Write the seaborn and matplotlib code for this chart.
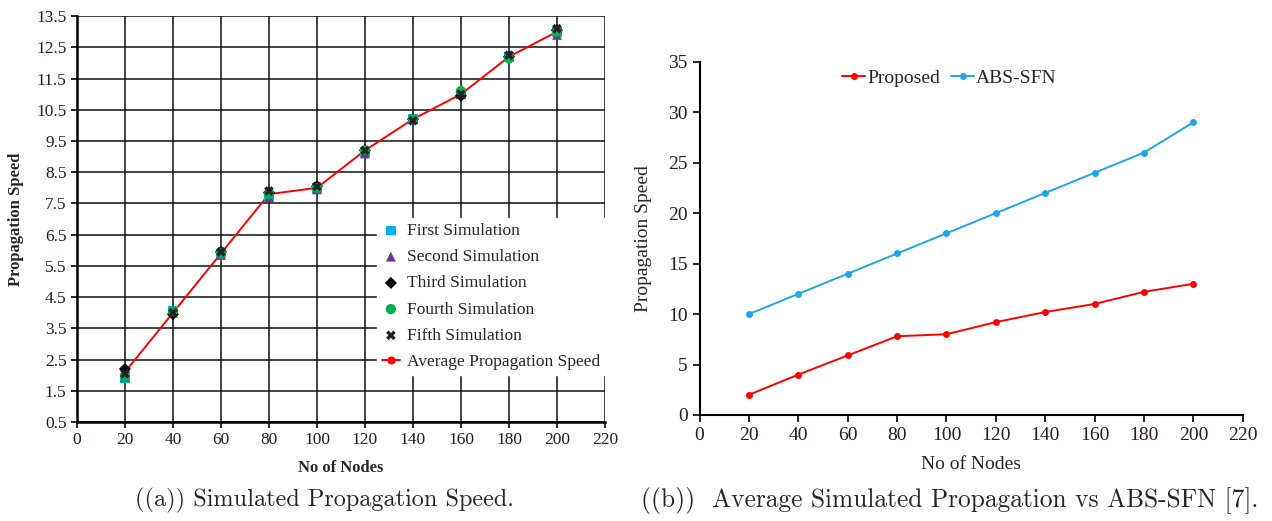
import numpy as np
import pandas as pd
import matplotlib
matplotlib.use("Agg")
import matplotlib.pyplot as plt
import seaborn as sns

# ---- data ----
nodes = [20, 40, 60, 80, 100, 120, 140, 160, 180, 200]
first_sim = [1.90, 4.05, 5.90, 7.75, 8.00, 9.15, 10.20, 11.00, 12.20, 13.00]
second_sim = [1.95, 4.00, 5.85, 7.70, 7.95, 9.10, 10.20, 11.00, 12.25, 12.90]
third_sim = [2.20, 3.95, 5.95, 7.85, 8.05, 9.20, 10.20, 10.95, 12.20, 13.05]
fourth_sim = [1.95, 4.05, 5.90, 7.80, 8.00, 9.20, 10.20, 11.10, 12.15, 13.00]
fifth_sim = [2.05, 4.00, 5.95, 7.90, 8.05, 9.20, 10.15, 11.00, 12.25, 13.10]
average_speed = [2.1, 4.0, 5.9, 7.8, 8.0, 9.2, 10.2, 11.0, 12.2, 13.0]
proposed = [2.0, 4.0, 5.9, 7.8, 8.0, 9.2, 10.2, 11.0, 12.2, 13.0]
abs_sfn = [10, 12, 14, 16, 18, 20, 22, 24, 26, 29]

left_yticks = [0.5, 1.5, 2.5, 3.5, 4.5, 5.5, 6.5, 7.5, 8.5, 9.5, 10.5, 11.5, 12.5, 13.5]
right_yticks = [0, 5, 10, 15, 20, 25, 30, 35]
xticks = list(range(0, 221, 20))

sns.set_theme(style="white")
plt.rcParams["font.family"] = ["Liberation Serif", "DejaVu Serif"]

fig = plt.figure(figsize=(12.72, 5.21), dpi=100)
ax1 = fig.add_axes([0.0605, 0.190, 0.4151, 0.779])
ax2 = fig.add_axes([0.550, 0.2035, 0.427, 0.678])

tick_color = "#2a1a2a"

# ---- left: five simulations and their average ----
sims = [
    ("First Simulation", first_sim, "s", "#00B0F0", 50),
    ("Second Simulation", second_sim, "^", "#7030A0", 50),
    ("Third Simulation", third_sim, "D", "black", 38),
    ("Fourth Simulation", fourth_sim, "o", "#00B050", 55),
    ("Fifth Simulation", fifth_sim, "X", "#222222", 48),
]
for name, vals, mk, col, sz in sims:
    df = pd.DataFrame({"nodes": nodes, "speed": vals})
    sns.scatterplot(data=df, x="nodes", y="speed", ax=ax1, marker=mk, color=col,
                    s=sz, edgecolor="none", label=name, zorder=4)

avg_df = pd.DataFrame({"nodes": nodes, "speed": average_speed})
sns.lineplot(data=avg_df, x="nodes", y="speed", ax=ax1, color="#FF0000",
             linewidth=1.4, marker="o", markersize=5, markeredgecolor="#FF0000",
             label="Average Propagation Speed", zorder=3)

ax1.set_xlim(0, 220)
ax1.set_ylim(0.5, 13.5)
ax1.set_xticks(xticks)
ax1.set_yticks(left_yticks)
ax1.set_yticklabels([f"{v:.1f}" for v in left_yticks])
ax1.grid(True, color="#111111", linewidth=1.1)
ax1.set_axisbelow(True)
for side in ["top", "right"]:
    ax1.spines[side].set_visible(False)
for side in ["left", "bottom"]:
    ax1.spines[side].set_color("black")
    ax1.spines[side].set_linewidth(1.8)
ax1.tick_params(axis="both", direction="out", length=4, width=1.2, colors="black",
                labelsize=12.5, labelcolor=tick_color, bottom=True, left=True)
ax1.set_xlabel("No of Nodes", fontsize=12, fontweight="bold", labelpad=8)
ax1.set_ylabel("Propagation Speed", fontsize=12, fontweight="bold", labelpad=9)

leg1 = ax1.legend(loc="lower right", bbox_to_anchor=(1.0, 0.115), frameon=True,
                  fancybox=False, framealpha=1.0, edgecolor="white",
                  fontsize=12.5, handlelength=1.0, handletextpad=0.4,
                  labelspacing=0.58, borderpad=0.3, borderaxespad=0.0)
leg1.set_zorder(5)

# ---- right: proposed vs ABS-SFN ----
cmp_df = pd.DataFrame({
    "nodes": nodes * 2,
    "speed": proposed + abs_sfn,
    "method": ["Proposed"] * len(nodes) + ["ABS-SFN"] * len(nodes),
})
sns.lineplot(data=cmp_df, x="nodes", y="speed", hue="method", ax=ax2,
             palette={"Proposed": "#FF0000", "ABS-SFN": "#1EA7E6"},
             marker="o", markersize=5, markeredgewidth=0, linewidth=1.4)

ax2.set_xlim(0, 220)
ax2.set_ylim(0, 35)
ax2.set_xticks(xticks)
ax2.set_yticks(right_yticks)
for side in ["top", "right"]:
    ax2.spines[side].set_visible(False)
for side in ["left", "bottom"]:
    ax2.spines[side].set_color("black")
    ax2.spines[side].set_linewidth(1.5)
ax2.tick_params(axis="both", direction="out", length=5, width=1.2, colors="black",
                labelsize=14, labelcolor=tick_color, bottom=True, left=True)
ax2.set_xlabel("No of Nodes", fontsize=14, labelpad=9)
ax2.set_ylabel("Propagation Speed", fontsize=14, labelpad=12)
ax2.legend(loc="upper left", bbox_to_anchor=(0.248, 1.0), ncol=2, frameon=False,
           fontsize=14, handlelength=1.2, handletextpad=0.1, columnspacing=0.55,
           borderaxespad=0.0)

# ---- sub-figure captions ----
fig.text(0.255, 0.04, "((a)) Simulated Propagation Speed.", ha="center",
         va="center", fontsize=17.5, family=["cmr10", "DejaVu Serif"])
fig.text(0.747, 0.04, "((b))  Average Simulated Propagation vs ABS-SFN [7].",
         ha="center", va="center", fontsize=18.3, family=["cmr10", "DejaVu Serif"])

fig.savefig("out.png", dpi=100, facecolor="white")
